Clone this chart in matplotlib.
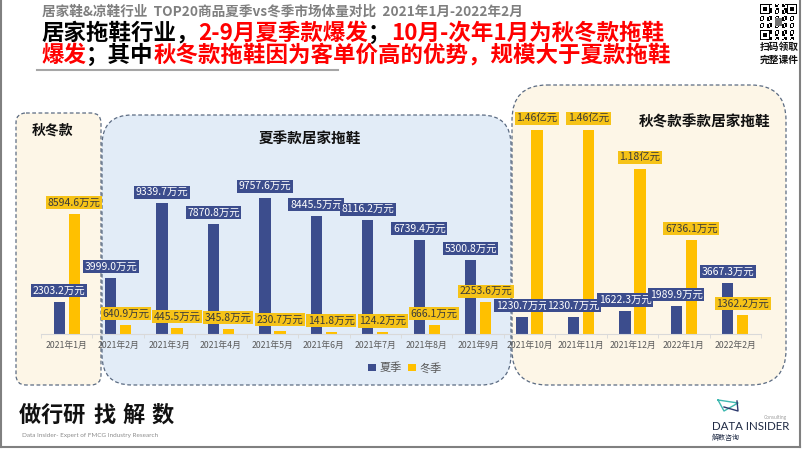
import matplotlib
matplotlib.use('Agg')
import matplotlib.pyplot as plt
from matplotlib.patches import FancyBboxPatch, Patch
import numpy as np

# ---------------- data ----------------
months = ['2021年1月', '2021年2月', '2021年3月', '2021年4月', '2021年5月', '2021年6月',
          '2021年7月', '2021年8月', '2021年9月', '2021年10月', '2021年11月', '2021年12月',
          '2022年1月', '2022年2月']
summer = [2303.2, 3999.0, 9339.7, 7870.8, 9757.6, 8445.5, 8116.2, 6739.4, 5300.8,
          1230.7, 1230.7, 1622.3, 1989.9, 3667.3]          # 万元
winter = [8594.6, 640.9, 445.5, 345.8, 230.7, 141.8, 124.2, 666.1, 2253.6,
          14600.0, 14600.0, 11800.0, 6736.1, 1362.2]        # 万元
series_names = ['夏季', '冬季']

header = '居家鞋&凉鞋行业  TOP20商品夏季vs冬季市场体量对比  2021年1月-2022年2月'
line2 = [('居家拖鞋行业，', 'k'), ('2-9月夏季款爆发', 'r'), ('；', 'k'), ('10月-次年1月为秋冬款拖鞋', 'r')]
line3 = [('爆发', 'r'), ('；其中', 'k'), ('秋冬款拖鞋因为客单价高的优势，规模大于夏款拖鞋', 'r')]
box_titles = ['秋冬款', '夏季款居家拖鞋', '秋冬款季款居家拖鞋']

plt.rcParams['font.family'] = ['Noto Sans CJK SC', 'DejaVu Sans']

BLUE = '#3c4d8d'
GOLD = '#ffc000'
GOLD_LBL = '#f6c318'
RED = '#ff0000'
EDGE = '#5b6b82'

W, H = 802, 451
fig = plt.figure(figsize=(W / 100, H / 100), dpi=100)
fig.patch.set_facecolor('white')

# background (pixel coordinates)
bg = fig.add_axes([0, 0, 1, 1], zorder=0)
bg.set_xlim(0, W)
bg.set_ylim(H, 0)
bg.axis('off')

# outer frame
bg.plot([1, 1], [0, 447], color='#808080', lw=1.5)
bg.plot([1, 800], [447, 447], color='#808080', lw=1.5)
bg.plot([800, 800], [0, 447], color='#808080', lw=1.5)


def rbox(x0, y0, x1, y1, r, fc):
    p = FancyBboxPatch((x0, y0), x1 - x0, y1 - y0,
                       boxstyle=f'round,pad=0,rounding_size={r}',
                       fc=fc, ec=EDGE, lw=0.9, ls=(0, (3, 2)))
    bg.add_patch(p)


rbox(16, 113, 101, 385, 10, '#fdf6e7')
rbox(102, 115, 511, 385, 30, '#e2ecf7')
rbox(512, 85, 786, 385, 35, '#fdf6e7')

bg.text(53, 131, box_titles[0], fontsize=10, fontweight='bold', ha='center', va='center', color='#111111')
bg.text(310, 138, box_titles[1], fontsize=10.5, fontweight='bold', ha='center', va='center', color='#111111')
bg.text(705, 122, box_titles[2], fontsize=10.5, fontweight='bold', ha='center', va='center', color='#111111')

# header texts
bg.text(42, 12, header, fontsize=9.8, fontweight='bold', color='#7f7f7f', ha='left', va='center')


def chain(segments, x, y):
    prev = None
    for s, c in segments:
        col = RED if c == 'r' else '#000000'
        if prev is None:
            prev = bg.text(x, y, s, fontsize=16.2, fontweight='bold', color=col, ha='left', va='center')
        else:
            prev = bg.annotate(s, xy=(1, 0), xycoords=prev, fontsize=16.2, fontweight='bold',
                               color=col, ha='left', va='bottom')


chain(line2, 41, 33)
chain(line3, 41, 55)
bg.plot([37, 338], [70, 70], color='#a6a6a6', lw=1.5)

# QR-code-like decoration
n = 25
qr = np.zeros((n, n))
ii, jj = np.meshgrid(np.arange(n), np.arange(n), indexing='ij')
qr[((ii * ii + 3 * jj + ii * jj) % 5) < 2] = 1
for (r0, c0) in [(0, 0), (0, n - 7), (n - 7, 0)]:
    qr[r0:r0 + 7, c0:c0 + 7] = 1
    qr[r0 + 1:r0 + 6, c0 + 1:c0 + 6] = 0
    qr[r0 + 2:r0 + 5, c0 + 2:c0 + 5] = 1
qr[10:15, 10:15] = 0.55
bg.imshow(1 - qr, cmap='gray', vmin=0, vmax=1, extent=(760, 797, 40, 4), origin='upper',
          interpolation='nearest', aspect='auto', zorder=2)
bg.set_xlim(0, W)
bg.set_ylim(H, 0)
bg.text(779, 47, '扫码领取', fontsize=7, fontweight='bold', ha='center', va='center', color='#111111')
bg.text(779, 60, '完整课件', fontsize=7, fontweight='bold', ha='center', va='center', color='#111111')

# footer
for ch, cx in zip('做行研找解数', [30, 52, 74, 105, 134, 163]):
    bg.text(cx, 415, ch, fontsize=16, fontweight='heavy', ha='center', va='center', color='#111111')
bg.text(22, 435, 'Data Insider- Expert of FMCG Industry Research', fontsize=4.6,
        family=['Lato', 'DejaVu Sans'], color='#8c8c8c', ha='left', va='center')

# logo
bg.plot([718, 724, 738, 718], [400, 411, 403, 400], color='#3fb8b0', lw=1.0)
bg.plot([724, 738, 737], [407, 411, 401], color='#2d3a6e', lw=1.0)
bg.text(787, 418, 'Consulting', fontsize=3.5, color='#a0a0a0', ha='right', va='center',
        family=['Lato', 'DejaVu Sans'])
bg.text(712, 427, 'DATA INSIDER', fontsize=8.3, color='#1f2a44', ha='left', va='center',
        family=['Lato', 'DejaVu Sans'])
bg.text(712, 438, '解数咨询', fontsize=5, color='#1f2a44', ha='left', va='center')

# ---------------- chart ----------------
ax = fig.add_axes([41 / W, 1 - 334 / H, 720 / W, 224 / H], zorder=1)
ax.patch.set_alpha(0)
x = np.arange(len(months))
bw = 0.22
off = 0.145
ax.bar(x - off, summer, width=bw, color=BLUE, zorder=2)
ax.bar(x + off, winter, width=bw, color=GOLD, zorder=2)
ax.set_xlim(-0.5, len(months) - 0.5)
ax.set_ylim(0, 16016)
for s in ['top', 'right', 'left']:
    ax.spines[s].set_visible(False)
ax.spines['bottom'].set_color('#d9d9d9')
ax.set_yticks([])
ax.set_xticks(x, months)
ax.tick_params(axis='x', length=0, pad=5, labelsize=6.3, labelcolor='#595959')
ax.set_xticks(np.arange(-0.5, len(months), 1), minor=True)
ax.tick_params(axis='x', which='minor', length=3, color='#d9d9d9')


def fmt(v):
    if v >= 10000:
        return f'{v / 10000:.2f}亿元'
    return f'{v:.1f}万元'


for i in range(len(months)):
    ax.annotate(fmt(summer[i]), (x[i] - off, summer[i]), xytext=(0, 4.5), textcoords='offset points',
                ha='center', va='bottom', fontsize=7.5, color='white', zorder=5,
                bbox=dict(boxstyle='square,pad=0.15', fc=BLUE, ec='none'))
    ax.annotate(fmt(winter[i]), (x[i] + off, winter[i]), xytext=(0, 4.5), textcoords='offset points',
                ha='center', va='bottom', fontsize=7.5, color='#3a3a3a', zorder=5,
                bbox=dict(boxstyle='square,pad=0.15', fc=GOLD_LBL, ec='none'))

ax.legend(handles=[Patch(fc=BLUE), Patch(fc=GOLD)], labels=series_names, loc='center',
          bbox_to_anchor=(405 / W, 1 - 368 / H), bbox_transform=fig.transFigure, ncol=2,
          frameon=False, fontsize=8, handlelength=0.7, handleheight=0.7, handletextpad=0.3,
          columnspacing=0.6, labelcolor='#595959')

fig.savefig('out.png', dpi=100, facecolor='white')
